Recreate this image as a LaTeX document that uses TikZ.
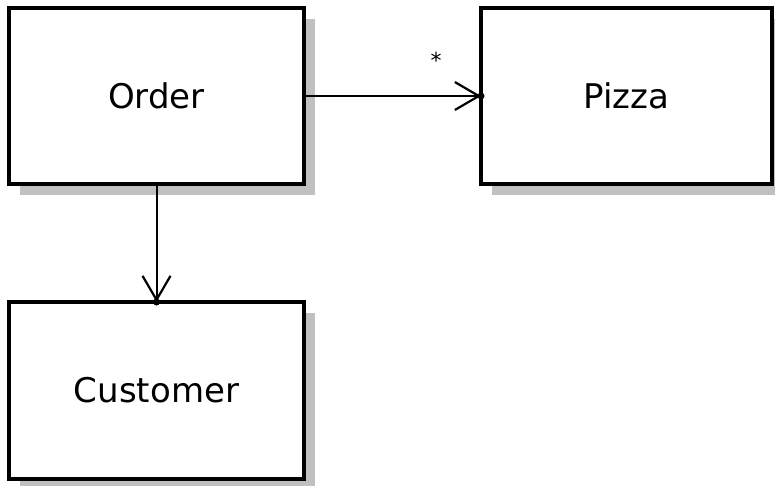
\documentclass[tikz,border=0pt]{standalone}
\usepackage{fontspec}
\setmainfont{DejaVu Sans}
\usetikzlibrary{arrows.meta,shadows}
\definecolor{shade}{HTML}{C0C0C0}
\begin{document}
\begin{tikzpicture}[x=1pt,y=-1pt,
  classbox/.style={draw=black, line width=3.2pt, fill=white, inner sep=0pt, outer sep=0pt,
    minimum height=176pt, font=\fontsize{34}{40}\selectfont,
    drop shadow={shadow xshift=11pt, shadow yshift=-11pt, fill=shade, opacity=1}},
  assoc/.style={line width=2pt,
    -{Straight Barb[length=24pt,width=28pt,line width=2.2pt]}},
  tipdot/.style={fill=black}]
\useasboundingbox (0,0) rectangle (775,485);
\node[classbox, minimum width=295pt] (order) at (156.5,96) {Order};
\node[classbox, minimum width=291pt] (pizza) at (626.5,96) {Pizza};
\node[classbox, minimum width=295pt, minimum height=177pt] (customer) at (156.5,390.5) {Customer};
% order -> pizza (many)
\draw[assoc] (order.east) -- (pizza.west);
\fill[tipdot] (pizza.west) circle (3.5pt);
\node[font=\fontsize{22}{26}\selectfont] (mult) at (436,60) {*};
% order -> customer
\draw[assoc] (order.south) -- (customer.north);
\fill[tipdot] (customer.north) circle (3.5pt);
\end{tikzpicture}
\end{document}
